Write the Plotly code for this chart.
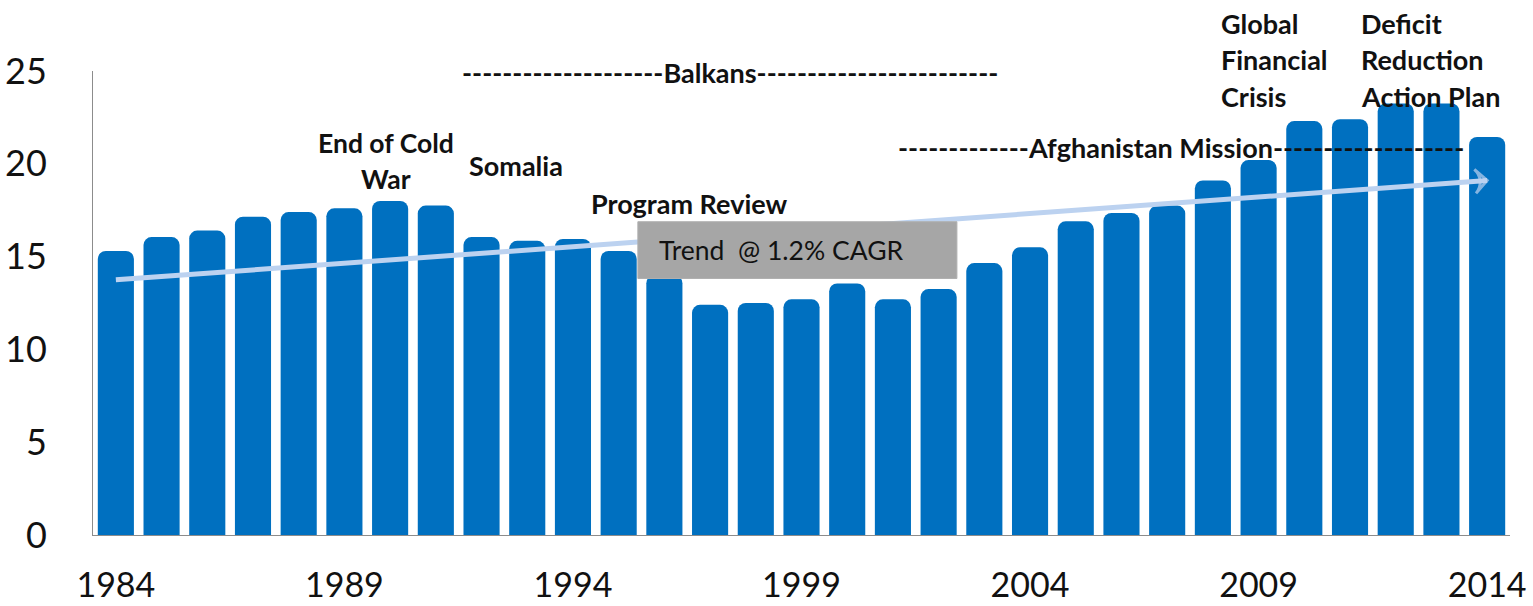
import plotly.graph_objects as go

years = list(range(1984, 2015))
values = [15.3, 16.05, 16.4, 17.15, 17.4, 17.6, 18.0, 17.75, 16.05, 15.85,
          15.95, 15.3, 14.0, 12.4, 12.5, 12.7, 13.55, 12.7, 13.25, 14.65,
          15.5, 16.9, 17.35, 17.75, 19.1, 20.2, 22.3, 22.4, 23.25, 23.25, 21.45]
trend_years = [1984, 2014]
trend_values = [13.75, 19.1]
x_tick_years = [1984, 1989, 1994, 1999, 2004, 2009, 2014]
y_ticks = [0, 5, 10, 15, 20, 25]

FONT = "Lato"
BAR = "#0070c0"
TREND = "#bcd2f0"
YMAX = 25.0

fig = go.Figure()
fig.add_trace(go.Bar(
    x=years, y=values, marker=dict(color=BAR, cornerradius=8, line=dict(width=0)),
    hoverinfo="x+y",
))
fig.add_trace(go.Scatter(
    x=trend_years, y=trend_values, mode="lines+markers",
    line=dict(color=TREND, width=5),
    marker=dict(symbol="arrow-wide-open", size=[0, 17], angleref="previous",
                color=TREND, line=dict(color=TREND, width=3)),
    hoverinfo="skip",
))

fig.add_shape(type="rect", xref="x", yref="y", x0=1995.42, x1=2002.4, y0=13.82, y1=16.88,
              fillcolor="#a6a6a6", line=dict(color="#b0b0b0", width=1), layer="above")

ann = []
def txt(x, y, s, size=27, bold=True, anchor="left"):
    ann.append(dict(x=x, y=y / YMAX, xref="x", yref="paper", text=(f"<b>{s}</b>" if bold else s),
                    showarrow=False, xanchor=anchor, yanchor="middle",
                    font=dict(family=FONT, size=size, color="#111111")))

txt(1995.84, 15.35, "Trend  @ 1.2% CAGR", size=26.5, bold=False)
txt(1989.9, 21.1, "End of Cold", size=26.5, anchor="center")
txt(1989.9, 19.2, "War", size=26.5, anchor="center")
txt(1991.68, 19.9, "Somalia")
txt(1994.35, 17.85, "Program Review")
txt(1991.53, 24.9, "-" * 20 + "Balkans" + "-" * 24)
txt(2001.07, 20.86, "-" * 13 + "Afghanistan Mission" + "-" * 19)
for i, s in enumerate(["Global", "Financial", "Crisis"]):
    txt(2008.14, 27.55 - 1.95 * i, s)
for i, s in enumerate(["Deficit", "Reduction", "Action Plan"]):
    txt(2011.2, 27.55 - 1.95 * i, s)

fig.update_layout(
    width=1533, height=606,
    margin=dict(l=93, r=23, t=71, b=71),
    paper_bgcolor="white", plot_bgcolor="white",
    showlegend=False, bargap=0.21,
    font=dict(family=FONT, color="#111111"),
    annotations=ann,
    xaxis=dict(range=[1983.5, 2014.5], tickmode="array", tickvals=x_tick_years,
               ticktext=[str(y) for y in x_tick_years], showgrid=False, zeroline=False,
               showline=True, linecolor="#8c8c8c", linewidth=1, ticks="", automargin=False,
               tickfont=dict(family=FONT, size=34, color="#111111"), ticklabelstandoff=20),
    yaxis=dict(range=[0, YMAX], tickmode="array", tickvals=y_ticks, showgrid=False,
               zeroline=False, showline=True, linecolor="#8c8c8c", linewidth=1, ticks="",
               automargin=False,
               tickfont=dict(family=FONT, size=36, color="#111111"), ticklabelstandoff=38),
)
fig.write_html("out.html", config={"displayModeBar": False},
               post_script="document.body.style.margin='0px';document.body.style.overflow='hidden';")
